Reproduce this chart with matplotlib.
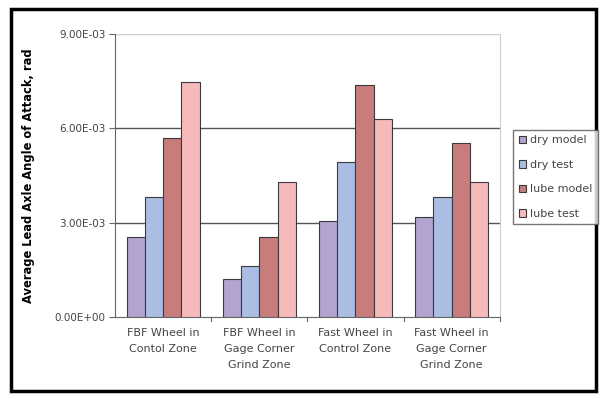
import matplotlib
matplotlib.use("Agg")
import matplotlib.pyplot as plt
import numpy as np
from matplotlib.patches import Rectangle

categories = ["FBF Wheel in\nContol Zone", "FBF Wheel in\nGage Corner\nGrind Zone",
              "Fast Wheel in\nControl Zone", "Fast Wheel in\nGage Corner\nGrind Zone"]
series_names = ["dry model", "dry test", "lube model", "lube test"]
dry_model = [2.55e-3, 1.21e-3, 3.05e-3, 3.17e-3]
dry_test = [3.81e-3, 1.62e-3, 4.92e-3, 3.81e-3]
lube_model = [5.68e-3, 2.54e-3, 7.37e-3, 5.52e-3]
lube_test = [7.46e-3, 4.29e-3, 6.29e-3, 4.29e-3]
yticks = [0.0, 3e-3, 6e-3, 9e-3]
ytick_labels = ["0.00E+00", "3.00E-03", "6.00E-03", "9.00E-03"]
colors = ["#b3a3cf", "#aabde3", "#c97c7c", "#f7baba"]

fig = plt.figure(figsize=(6.03, 3.96), dpi=100)
fig.patches.append(Rectangle((0.019, 0.013), 0.970, 0.965, transform=fig.transFigure,
                             fill=False, edgecolor="black", linewidth=2.5))
ax = fig.add_axes([0.1907, 0.1995, 0.638, 0.7145])

x = np.arange(len(categories))
w = 0.19
for i, (vals, c, n) in enumerate(zip([dry_model, dry_test, lube_model, lube_test], colors, series_names)):
    ax.bar(x + (i - 1.5) * w, vals, width=w, color=c, edgecolor="#3a3a3a", linewidth=0.8, label=n, zorder=3)

ax.set_xlim(-0.5, 3.5)
ax.set_ylim(0, 9e-3)
ax.set_yticks(yticks)
ax.set_yticklabels(ytick_labels, fontsize=7.5, color="#444444")
ax.set_xticks(x)
ax.set_xticklabels(categories, fontsize=8, color="#444444", linespacing=1.75)
ax.tick_params(axis="x", length=0, pad=8)
ax.tick_params(axis="y", length=4, direction="out", color="#666666", pad=3)
for yv in [3e-3, 6e-3]:
    ax.axhline(yv, color="#555555", linewidth=1.0, zorder=1)
ax.axhline(9e-3, color="#cccccc", linewidth=1.0, zorder=1)
ax.spines["top"].set_visible(False)
ax.spines["right"].set_color("#cccccc")
ax.spines["left"].set_color("#666666")
ax.spines["bottom"].set_color("#666666")
for xb in [0.5, 1.5, 2.5, 3.5]:
    ax.plot([xb, xb], [0, -0.00012], color="#666666", linewidth=0.8, clip_on=False)

ax.set_ylabel("Average Lead Axle Angle of Attack, rad", fontsize=8.3, fontweight="bold")
ax.yaxis.set_label_coords(-0.208, 0.5)

leg = fig.legend(loc="upper left", bbox_to_anchor=(0.851, 0.672), fontsize=8, frameon=True,
                 fancybox=False, edgecolor="#555555", handlelength=0.7, handleheight=0.7,
                 handletextpad=0.3, labelspacing=1.3, borderpad=0.5, borderaxespad=0)
leg.get_frame().set_linewidth(1.0)
for t in leg.get_texts():
    t.set_color("#444444")

fig.savefig("out.png", dpi=100)
